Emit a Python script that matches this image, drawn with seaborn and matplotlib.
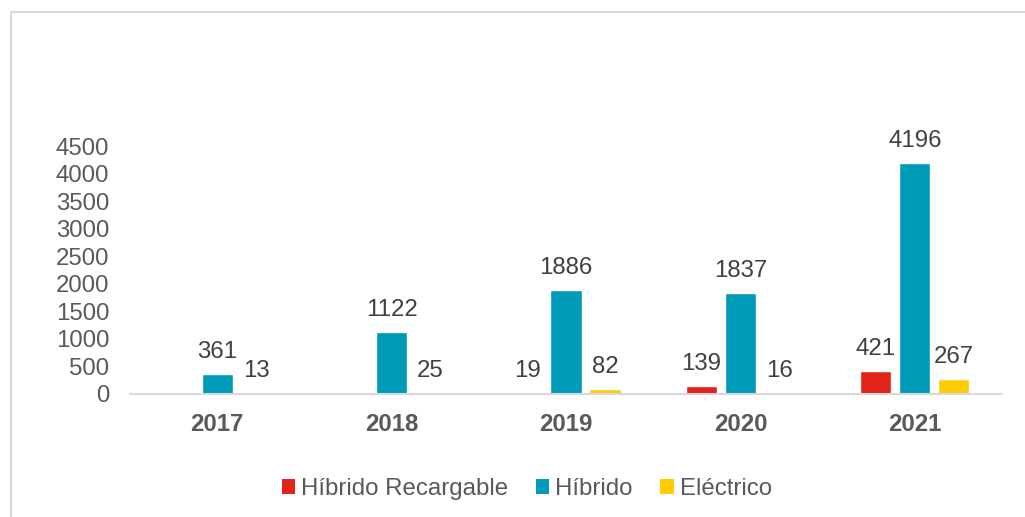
import numpy as np
import pandas as pd
import matplotlib.pyplot as plt
import seaborn as sns
from matplotlib.patches import Rectangle, Patch

# data
years = ["2017", "2018", "2019", "2020", "2021"]
hibrido_recargable = [np.nan, np.nan, 19, 139, 421]
hibrido = [361, 1122, 1886, 1837, 4196]
electrico = [13, 25, 82, 16, 267]
series_names = ["Híbrido Recargable", "Híbrido", "Eléctrico"]
colors = ["#E2231A", "#009BB8", "#FFCC00"]

df = pd.DataFrame({
    "year": years * 3,
    "tipo": [series_names[0]] * 5 + [series_names[1]] * 5 + [series_names[2]] * 5,
    "value": hibrido_recargable + hibrido + electrico,
})

sns.set_theme(style="white")
plt.rcParams["font.family"] = ["Liberation Sans", "DejaVu Sans"]
fs = 17.3

fig = plt.figure(figsize=(10.25, 5.17), dpi=100)
ax = fig.add_axes([130 / 1025, 1 - 394 / 517, (1002 - 130) / 1025, (394 - 146) / 517])

sns.barplot(
    data=df, x="year", y="value", hue="tipo",
    hue_order=series_names, palette=colors, order=years,
    width=0.67, gap=0.2, errorbar=None, ax=ax, legend=False,
    saturation=1,
)

for cont in ax.containers:
    labels = ["" if np.isnan(v) else f"{v:.0f}" for v in cont.datavalues]
    ax.bar_label(cont, labels=labels, padding=8, fontsize=fs, color="#404040")

ax.set_ylim(0, 4500)
ax.set_xlim(-0.5, 4.5)
ax.set_yticks(range(0, 4501, 500))
ax.set_xlabel("")
ax.set_ylabel("")
for s in ["top", "right", "left"]:
    ax.spines[s].set_visible(False)
ax.spines["bottom"].set_color("#D9D9D9")
ax.spines["bottom"].set_linewidth(1.5)
ax.tick_params(axis="y", length=0, pad=15, labelsize=fs, labelcolor="#595959")
ax.tick_params(axis="x", length=0, pad=14, labelsize=fs, labelcolor="#595959")
for t in ax.get_xticklabels():
    t.set_fontweight("bold")

handles = [Patch(facecolor=c, edgecolor="none") for c in colors]
fig.legend(handles, series_names, loc="center", bbox_to_anchor=(0.514, 1 - 489 / 517),
           ncol=3, frameon=False, fontsize=fs, labelcolor="#595959",
           handlelength=0.55, handleheight=0.55, handletextpad=0.25, columnspacing=1.15)

# outer light-gray frame
fig.patches.append(Rectangle((11 / 1025, -0.1), 1.2, 1 - 12 / 517 + 0.1,
                             transform=fig.transFigure, fill=False,
                             edgecolor="#D9D9D9", linewidth=1.5))

fig.savefig("out.png", dpi=100)
